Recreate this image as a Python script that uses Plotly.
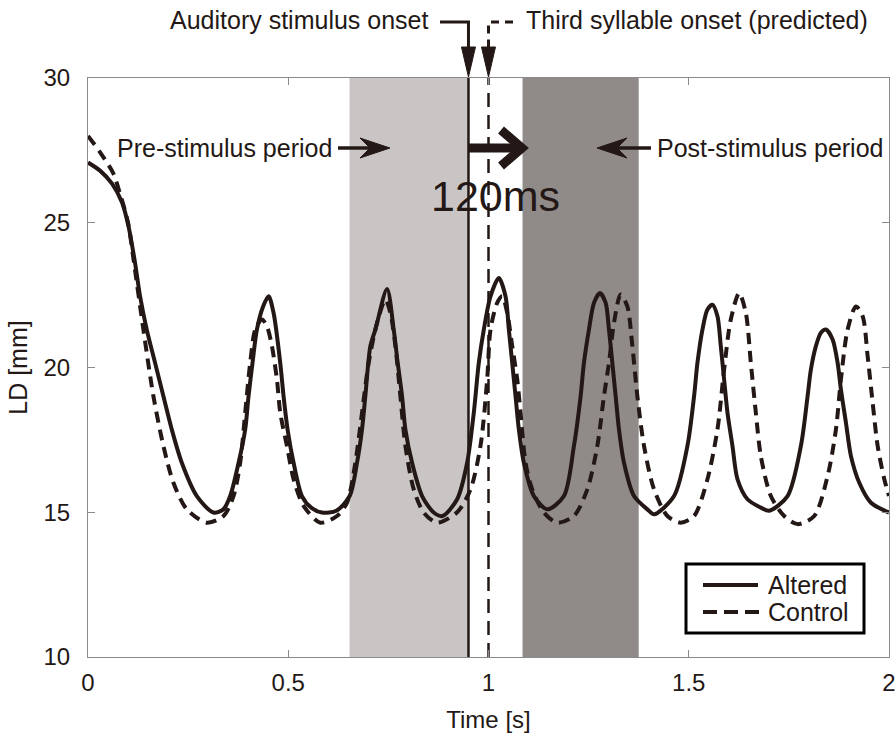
import plotly.graph_objects as go

# ---------------- data ----------------
alt_t = [0.0, 0.03, 0.06, 0.085, 0.1008, 0.1175, 0.13, 0.1467, 0.1675, 0.1883, 0.2092, 0.2342,
         0.2717, 0.3133, 0.338, 0.355, 0.376, 0.3925, 0.4008, 0.4108, 0.4217, 0.437, 0.451,
         0.4633, 0.48, 0.4883, 0.4983, 0.5133, 0.5342, 0.558, 0.584, 0.62, 0.6533, 0.6717, 0.6842,
         0.6925, 0.705, 0.7175, 0.7467, 0.7633, 0.7733, 0.7842, 0.7925, 0.8092, 0.8342, 0.8633,
         0.885, 0.9217, 0.9467, 0.9633, 0.9758, 0.9883, 1.005, 1.0258, 1.0425, 1.0508, 1.0592,
         1.0675, 1.0758, 1.0883, 1.1133, 1.1467, 1.1883, 1.2133, 1.23, 1.2383, 1.2508, 1.2633,
         1.2783, 1.2925, 1.3008, 1.3092, 1.3175, 1.3258, 1.3383, 1.3633, 1.3967, 1.4133, 1.4633,
         1.4967, 1.5133, 1.5217, 1.5342, 1.5467, 1.5592, 1.5717, 1.58, 1.5883, 1.5967, 1.6092,
         1.6217, 1.6467, 1.68, 1.7008, 1.7467, 1.78, 1.7967, 1.805, 1.8175, 1.83, 1.8425, 1.8592,
         1.8717, 1.88, 1.8925, 1.905, 1.9258, 1.955, 2.0]
alt_ld = [27.08, 26.8, 26.35, 25.7, 24.9, 23.61, 22.46, 21.31, 20.16, 19.01, 17.86, 16.71,
          15.56, 14.99, 15.1, 15.56, 16.71, 17.86, 19.01, 20.16, 21.31, 22.1, 22.46,
          21.89, 20.16, 19.01, 17.86, 16.71, 15.56, 15.15, 14.99, 15.05, 15.56, 16.71, 17.86,
          19.01, 20.74, 21.31, 22.71, 21.31, 20.16, 19.01, 17.86, 16.71, 15.56, 14.99,
          14.87, 15.45, 16.71, 18.44, 20.16, 21.31, 22.46, 23.09, 22.46, 21.31, 20.16,
          19.01, 17.86, 16.71, 15.56, 15.1, 15.56, 17.29, 19.01, 20.16, 21.31, 22.23,
          22.57, 22.23, 21.31, 20.16, 19.01, 17.86, 16.71, 15.56, 15.1, 14.93, 15.56,
          17.29, 19.01, 20.16, 21.31, 22.0, 22.17, 21.77, 20.74, 19.59, 18.44, 17.29,
          16.14, 15.45, 15.16, 15.05, 15.56, 17.29, 19.01, 19.93, 20.74, 21.2, 21.31, 20.97,
          20.16, 19.24, 18.09, 16.94, 16.02, 15.33, 14.99]

ctl_t = [0.0, 0.029, 0.063, 0.08, 0.1, 0.115, 0.1383, 0.1633, 0.1883, 0.2133, 0.2467, 0.2967,
         0.3383, 0.3633, 0.38, 0.3925, 0.405, 0.4175, 0.4342, 0.4467, 0.4592, 0.4717, 0.48,
         0.4967, 0.5133, 0.5383, 0.58, 0.6217, 0.6467, 0.6675, 0.6842, 0.7008, 0.7217, 0.7425,
         0.755, 0.7675, 0.78, 0.7925, 0.8133, 0.8383, 0.8717, 0.9217, 0.955, 0.98, 0.9967,
         1.005, 1.0217, 1.0342, 1.0467, 1.0592, 1.0717, 1.08, 1.0925, 1.1092, 1.1383, 1.1717,
         1.2133, 1.2467, 1.2717, 1.2883, 1.3008, 1.3133, 1.33, 1.3467, 1.3592, 1.3717, 1.3883,
         1.4133, 1.4467, 1.48, 1.5133, 1.5467, 1.5717, 1.5883, 1.605, 1.6258, 1.6425, 1.655,
         1.6675, 1.68, 1.705, 1.7383, 1.7717, 1.8133, 1.8467, 1.8675, 1.88, 1.8967, 1.9175,
         1.9342, 1.9467, 1.9592, 1.9717, 1.9883, 2.0]
ctl_ld = [28.0, 27.46, 26.71, 26.0, 25.0, 23.6, 21.31, 19.01, 17.29, 16.02, 15.1, 14.64,
          14.87, 15.56, 16.71, 18.44, 20.16, 21.31, 21.66, 21.43, 20.74, 19.59, 18.44,
          17.29, 16.14, 15.22, 14.64, 14.87, 15.33, 16.71, 18.44, 20.16, 21.54, 22.34,
          21.89, 20.74, 19.01, 17.29, 15.79, 14.99, 14.64, 15.0, 15.79, 17.29, 19.59,
          21.31, 22.23, 22.46, 21.89, 20.74, 19.59, 18.44, 16.71, 15.79, 14.99, 14.64,
          14.87, 15.79, 17.29, 19.01, 20.16, 21.54, 22.52, 22.11, 20.74, 19.01, 17.29,
          15.79, 14.87, 14.64, 14.87, 16.14, 17.86, 19.93, 21.66, 22.57, 21.89, 20.16,
          18.44, 16.94, 15.56, 14.87, 14.59, 14.87, 16.25, 17.86, 19.59, 21.31, 22.11,
          21.77, 20.39, 18.78, 17.29, 16.14, 15.56]

series_names = ["Altered", "Control"]
x_ticks = [0, 0.5, 1, 1.5, 2]
x_ticklabels = ["0", "0.5", "1", "1.5", "2"]
y_ticks = [10, 15, 20, 25, 30]

pre_period = [0.653, 0.95]
post_period = [1.085, 1.375]
stim_onset = 0.95
third_onset = 1.0
delay_label = "120ms"

# ---------------- style ----------------
INK = "#231815"
FONT = "Liberation Sans, Arial, sans-serif"
W, H = 895, 738
ML, MR, MT, MB = 88, 6, 78, 81
PW, PH = W - ML - MR, H - MT - MB
XR = [0, 2]
YR = [10, 30]
CURVE_W = 4
CTL_DASH = "11px,7px"


def xp(px):  # pixel -> paper x
    return (px - ML) / PW


def yp(py):  # pixel -> paper y
    return (H - MB - py) / PH


def tx(t):  # data x -> paper x
    return (t - XR[0]) / (XR[1] - XR[0])


def xdat(px):  # pixel -> data x
    return XR[0] + (px - ML) / PW * (XR[1] - XR[0])


def ydat(py):  # pixel -> data y
    return YR[1] - (py - MT) / PH * (YR[1] - YR[0])


fig = go.Figure()
fig.add_trace(go.Scatter(x=alt_t, y=alt_ld, mode="lines", name=series_names[0], showlegend=False,
                         line=dict(color=INK, width=CURVE_W, shape="spline", smoothing=0.8)))
fig.add_trace(go.Scatter(x=ctl_t, y=ctl_ld, mode="lines", name=series_names[1], showlegend=False,
                         line=dict(color=INK, width=CURVE_W, dash=CTL_DASH, shape="spline", smoothing=0.8)))

shapes = []
# shaded periods
shapes.append(dict(type="rect", xref="x", yref="y", x0=pre_period[0], x1=pre_period[1],
                   y0=YR[0], y1=YR[1], fillcolor="#c9c5c4", line=dict(width=0), layer="below"))
shapes.append(dict(type="rect", xref="x", yref="y", x0=post_period[0], x1=post_period[1],
                   y0=YR[0], y1=YR[1], fillcolor="#908b88", line=dict(width=0), layer="below"))
# onset lines in plot
shapes.append(dict(type="line", xref="x", yref="y", x0=stim_onset, x1=stim_onset, y0=YR[0], y1=YR[1],
                   line=dict(color=INK, width=2.5), layer="below"))
shapes.append(dict(type="line", xref="x", yref="y", x0=third_onset, x1=third_onset, y0=YR[0], y1=YR[1],
                   line=dict(color=INK, width=2.5, dash="14px,8px"), layer="below"))

# top bent arrows (outside plot)
xs = tx(stim_onset)
xd = tx(third_onset)
hw = 7 / PW
shapes.append(dict(type="path", xref="paper", yref="paper",
                   path=f"M{xp(440)},{yp(22)} L{xs},{yp(22)} L{xs},{yp(50)}",
                   line=dict(color=INK, width=3)))
shapes.append(dict(type="path", xref="paper", yref="paper",
                   path=f"M{xs - hw},{yp(47)} L{xs + hw},{yp(47)} L{xs},{yp(77)} Z",
                   fillcolor=INK, line=dict(color=INK, width=1)))
shapes.append(dict(type="path", xref="paper", yref="paper",
                   path=f"M{xp(513)},{yp(22)} L{xd},{yp(22)} L{xd},{yp(50)}",
                   line=dict(color=INK, width=3, dash="8px,6px")))
shapes.append(dict(type="path", xref="paper", yref="paper",
                   path=f"M{xd - hw},{yp(47)} L{xd + hw},{yp(47)} L{xd},{yp(77)} Z",
                   fillcolor=INK, line=dict(color=INK, width=1)))

# 120 ms thick arrow
ya = ydat(148)
dy = 18 / PH * (YR[1] - YR[0])
shapes.append(dict(type="line", xref="x", yref="y", x0=stim_onset, x1=xdat(518), y0=ya, y1=ya,
                   line=dict(color=INK, width=9)))
shapes.append(dict(type="path", xref="x", yref="y",
                   path=f"M{xdat(501)},{ya + dy} L{xdat(522)},{ya} L{xdat(501)},{ya - dy}",
                   line=dict(color=INK, width=9)))


# pre / post small arrows
def stealth(tip_px, back_px, notch_px):
    d10 = 10 / PH * (YR[1] - YR[0])
    tp, bp, npx = xdat(tip_px), xdat(back_px), xdat(notch_px)
    return dict(type="path", xref="x", yref="y",
                path=f"M{tp},{ya} L{bp},{ya + d10} L{npx},{ya} L{bp},{ya - d10} Z",
                fillcolor=INK, line=dict(color=INK, width=1))


shapes.append(dict(type="line", xref="x", yref="y", x0=xdat(338), x1=xdat(372),
                   y0=ya, y1=ya, line=dict(color=INK, width=3.5)))
shapes.append(stealth(390, 360, 370))
shapes.append(dict(type="line", xref="x", yref="y", x0=xdat(651), x1=xdat(615),
                   y0=ya, y1=ya, line=dict(color=INK, width=3.5)))
shapes.append(stealth(597, 627, 617))

# legend box (drawn to match the reference's long line samples)
shapes.append(dict(type="rect", xref="paper", yref="paper", x0=xp(686), x1=xp(864),
                   y0=yp(633), y1=yp(564), fillcolor="white", line=dict(color="black", width=3)))
shapes.append(dict(type="line", xref="paper", yref="paper", x0=xp(703), x1=xp(758),
                   y0=yp(585), y1=yp(585), line=dict(color=INK, width=CURVE_W)))
shapes.append(dict(type="line", xref="paper", yref="paper", x0=xp(703), x1=xp(760),
                   y0=yp(612), y1=yp(612), line=dict(color=INK, width=CURVE_W, dash="14px,7px")))

annotations = [
    dict(text="Auditory stimulus onset", xref="paper", yref="paper", x=xp(431), y=yp(20),
         xanchor="right", yanchor="middle", showarrow=False, font=dict(size=25, color=INK)),
    dict(text="Third syllable onset (predicted)", xref="paper", yref="paper", x=xp(524), y=yp(20),
         xanchor="left", yanchor="middle", showarrow=False, font=dict(size=25, color=INK)),
    dict(text="Pre-stimulus period", xref="paper", yref="paper", x=xp(334), y=yp(148),
         xanchor="right", yanchor="middle", showarrow=False, font=dict(size=25, color=INK)),
    dict(text="Post-stimulus period", xref="paper", yref="paper", x=xp(655), y=yp(148),
         xanchor="left", yanchor="middle", showarrow=False, font=dict(size=25, color=INK)),
    dict(text=delay_label, xref="paper", yref="paper", x=xp(495), y=yp(196),
         xanchor="center", yanchor="middle", showarrow=False, font=dict(size=43, color=INK)),
    dict(text=series_names[0], xref="paper", yref="paper", x=xp(766), y=yp(585),
         xanchor="left", yanchor="middle", showarrow=False, font=dict(size=25, color=INK)),
    dict(text=series_names[1], xref="paper", yref="paper", x=xp(766), y=yp(612),
         xanchor="left", yanchor="middle", showarrow=False, font=dict(size=25, color=INK)),
]

axis_common = dict(showline=True, linecolor="#8a8a8a", linewidth=1.2, mirror="ticks",
                   ticks="inside", ticklen=7, tickcolor="#8a8a8a", tickwidth=1.2,
                   showgrid=False, zeroline=False, ticklabeloverflow="allow", automargin=False,
                   tickfont=dict(size=24, color=INK, family=FONT))

fig.update_layout(
    width=W, height=H,
    margin=dict(l=ML, r=MR, t=MT, b=MB, pad=0, autoexpand=False),
    paper_bgcolor="white", plot_bgcolor="white",
    font=dict(family=FONT, color=INK),
    shapes=shapes, annotations=annotations,
    showlegend=False,
    xaxis=dict(range=XR, tickvals=x_ticks, ticktext=x_ticklabels,
               title=dict(text="Time [s]", font=dict(size=24, color=INK), standoff=16),
               ticklabelstandoff=4, **axis_common),
    yaxis=dict(range=YR, tickvals=y_ticks,
               title=dict(text="LD [mm]", font=dict(size=25, color=INK), standoff=8),
               ticklabelstandoff=12, **axis_common),
)

fig.write_html("out.html")
